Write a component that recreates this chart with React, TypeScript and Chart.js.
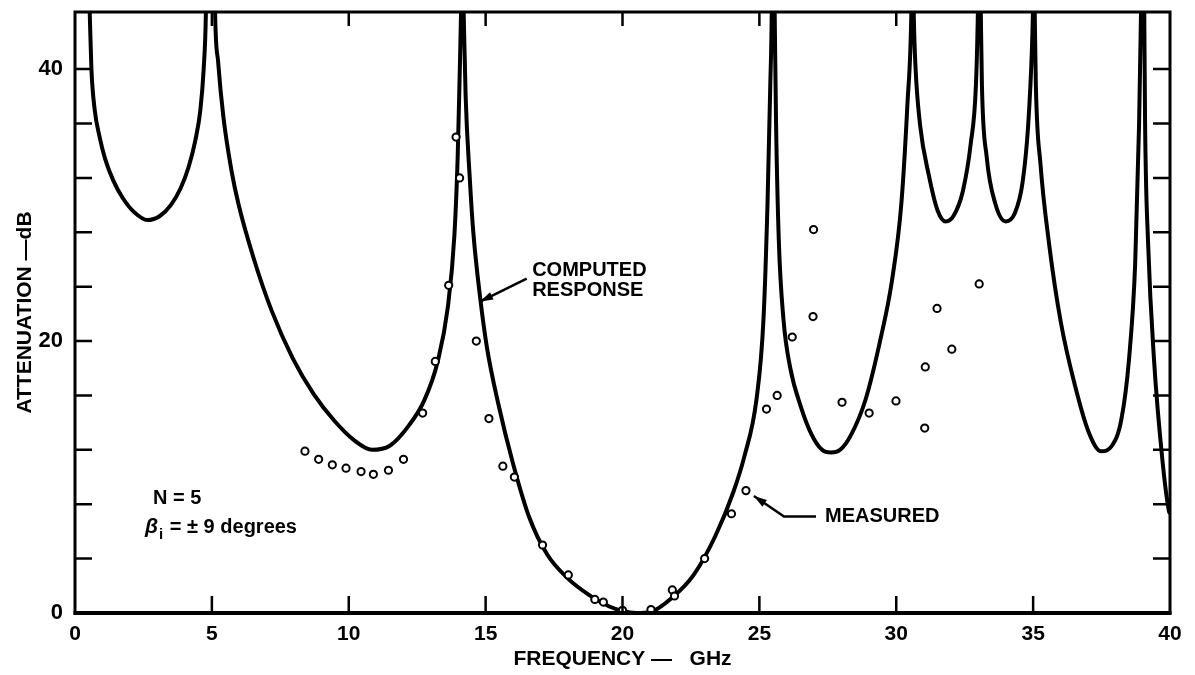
import React, { useEffect, useRef } from 'react';
import { Chart, registerables } from 'chart.js';

Chart.register(...registerables);

const FONT = "'Liberation Sans', Arial, sans-serif";

// Axis ticks
const xTickValues = [0, 5, 10, 15, 20, 25, 30, 35, 40];
const yTickValues = [0, 4, 8, 12, 16, 20, 24, 28, 32, 36, 40, 44];
const yLabelValues = [0, 20, 40];
const Y_MAX = 44.2;

// Computed response: frequency (GHz) / attenuation (dB); null marks a pole (curve leaves the chart)
const computedFreq = [
  0.5, 0.54, 0.6, 0.72, 0.9, 1.1, 1.4, 1.75, 2.15, 2.65, 3.1, 3.5, 3.85, 4.15, 4.4, 4.58, 4.7, 4.78, 4.8,
  4.9,
  5.1, 5.12, 5.23, 5.42, 5.72, 5.98, 6.54, 7.19, 7.95, 8.72, 9.49, 10.2, 10.85, 11.5, 12.2, 12.75, 13.25, 13.62, 13.86, 13.98, 14.05, 14.1, 14.12,
  14.15,
  14.17, 14.2, 14.27, 14.42, 14.55, 14.8, 15.05, 15.45, 16.0, 16.6, 17.25, 18.0, 18.8, 19.5, 20.0, 20.5, 21.05, 21.8, 22.6, 23.4, 24.05, 24.45, 24.9, 25.15, 25.3, 25.4, 25.45, 25.46,
  25.5,
  25.54, 25.56, 25.61, 25.71, 25.88, 26.12, 26.51, 26.89, 27.29, 27.62, 27.95, 28.35, 28.88, 29.42, 29.84, 30.19, 30.41, 30.55, 30.57,
  30.6,
  30.62, 30.64, 30.7, 30.87, 31.19, 31.51, 31.8, 32.09, 32.43, 32.72, 32.91, 32.98, 33.0,
  33.04,
  33.07, 33.09, 33.13, 33.3, 33.62, 34.0, 34.33, 34.61, 34.82, 34.96, 34.99, 35.01,
  35.03,
  35.04, 35.06, 35.1, 35.27, 35.58, 36.01, 36.52, 37.03, 37.48, 37.88, 38.22, 38.5, 38.73, 38.87, 38.94, 38.96,
  39.0,
  39.04, 39.06, 39.09, 39.2, 39.42, 39.72, 39.96, 40.0,
];
const computedAtten = [
  47, 44, 40, 37, 35, 33.4, 31.8, 30.5, 29.5, 28.9, 29.2, 30.0, 31.2, 32.8, 34.8, 37, 40, 44, 47,
  null,
  47, 44, 40.5, 36.5, 32.5, 30, 26, 22.2, 18.75, 16.1, 14.1, 12.7, 12.0, 12.3, 13.8, 15.6, 18.5, 22.5, 27.8, 33.6, 39.4, 44, 47,
  null,
  47, 44, 38, 32, 28, 23.2, 19.5, 15.5, 11.0, 7.0, 4.3, 2.55, 1.3, 0.5, 0.15, 0.0, 0.1, 1.1, 2.8, 5.7, 8.9, 11.5, 15.8, 21.6, 30.3, 39, 44, 47,
  null,
  47, 44, 36, 27.4, 21.6, 18.1, 15.2, 13.2, 12.0, 11.8, 12.0, 13.1, 15.7, 20.1, 24.4, 30.2, 37.5, 44, 47,
  null,
  47, 44, 40.3, 35.9, 32.2, 29.6, 28.8, 29.2, 31, 34.5, 38.8, 44, 47,
  null,
  47, 44, 38.8, 33.6, 30.1, 28.8, 29.4, 31.6, 35.9, 41.7, 44, 47,
  null,
  47, 44, 38.8, 33, 27.2, 21.4, 16.8, 13.3, 11.9, 12.3, 14.2, 18.6, 25.8, 35.9, 44, 47,
  null,
  47, 44, 36, 27.2, 18.5, 11.3, 7.5, 7.3,
];

// Measured points
const measuredFreq = [
  8.4, 8.9, 9.4, 9.9, 10.45, 10.9, 11.45, 12.0, 12.7, 13.16, 13.65, 13.92, 14.05, 14.66, 15.12, 15.63, 16.05,
  17.08, 18.02, 18.99, 19.3, 20.0, 21.04, 21.82, 21.9, 23.0, 23.98, 24.51, 25.26, 25.65, 26.2, 26.98, 26.96,
  28.02, 29.01, 29.99, 31.04, 31.06, 31.49, 32.03, 33.03,
];
const measuredAtten = [
  11.9, 11.3, 10.9, 10.65, 10.4, 10.2, 10.5, 11.3, 14.7, 18.5, 24.1, 35.0, 32.0, 20.0, 14.3, 10.8, 10.0,
  5.0, 2.8, 1.0, 0.8, 0.2, 0.25, 1.7, 1.25, 4.0, 7.3, 9.0, 15.0, 16.0, 20.3, 28.2, 21.8,
  15.5, 14.7, 15.6, 13.6, 18.1, 22.4, 19.4, 24.2,
];

// Annotations (data coordinates)
const computedLabel = ['COMPUTED', 'RESPONSE'];
const computedLabelAt = [16.7, 25.2, 23.7]; // x, y line 1, y line 2
const computedArrow = [[16.5, 24.6], [14.8, 22.9]];
const measuredLabel = 'MEASURED';
const measuredLabelAt = [27.4, 7.1];
const measuredArrow = [[27.07, 7.1], [25.9, 7.1], [24.8, 8.6]];
const nLabel = 'N = 5';
const nLabelAt = [2.85, 8.4];
const betaRest = ' = ± 9 degrees';
const betaLabelAt = [2.56, 6.3];

function drawArrow(ctx: any, pts: number[][]) {
  ctx.beginPath();
  ctx.moveTo(pts[0][0], pts[0][1]);
  for (let i = 1; i < pts.length; i++) ctx.lineTo(pts[i][0], pts[i][1]);
  ctx.stroke();
  const [x1, y1] = pts[pts.length - 2];
  const [x2, y2] = pts[pts.length - 1];
  const a = Math.atan2(y2 - y1, x2 - x1);
  const L = 13, W = 4;
  ctx.beginPath();
  ctx.moveTo(x2, y2);
  ctx.lineTo(x2 - L * Math.cos(a) + W * Math.sin(a), y2 - L * Math.sin(a) - W * Math.cos(a));
  ctx.lineTo(x2 - L * Math.cos(a) - W * Math.sin(a), y2 - L * Math.sin(a) + W * Math.cos(a));
  ctx.closePath();
  ctx.fill();
}

const framePlugin = {
  id: 'frameAndNotes',
  afterDraw(chart: any) {
    const { ctx, chartArea, scales } = chart;
    const { left, right, top, bottom } = chartArea;
    const xs = scales.x;
    const ys = scales.y;
    ctx.save();
    ctx.strokeStyle = '#000';
    ctx.fillStyle = '#000';
    ctx.lineCap = 'butt';
    // inward tick marks
    ctx.lineWidth = 2.5;
    ys.ticks.forEach((t: any) => {
      if (t.value <= 0 || t.value >= Y_MAX - 0.5) return;
      const py = ys.getPixelForValue(t.value);
      ctx.beginPath();
      ctx.moveTo(left, py); ctx.lineTo(left + 17, py);
      ctx.moveTo(right, py); ctx.lineTo(right - 17, py);
      ctx.stroke();
    });
    xs.ticks.forEach((t: any) => {
      if (t.value <= 0 || t.value >= 40) return;
      const px = xs.getPixelForValue(t.value);
      ctx.beginPath();
      ctx.moveTo(px, bottom); ctx.lineTo(px, bottom - 17);
      ctx.moveTo(px, top); ctx.lineTo(px, top + 14);
      ctx.stroke();
    });
    // frame
    ctx.lineWidth = 3;
    ctx.strokeRect(left, top, right - left, bottom - top);
    ctx.lineWidth = 4;
    ctx.beginPath();
    ctx.moveTo(left - 1.5, bottom); ctx.lineTo(right + 1.5, bottom);
    ctx.stroke();

    // annotations
    const X = (v: number) => xs.getPixelForValue(v);
    const Y = (v: number) => ys.getPixelForValue(v);
    ctx.font = `bold 20px ${FONT}`;
    ctx.textBaseline = 'middle';
    ctx.textAlign = 'left';
    ctx.fillText(computedLabel[0], X(computedLabelAt[0]), Y(computedLabelAt[1]));
    ctx.fillText(computedLabel[1], X(computedLabelAt[0]), Y(computedLabelAt[2]));
    ctx.fillText(measuredLabel, X(measuredLabelAt[0]), Y(measuredLabelAt[1]));
    ctx.fillText(nLabel, X(nLabelAt[0]), Y(nLabelAt[1]));
    // beta line
    const bx = X(betaLabelAt[0]);
    const by = Y(betaLabelAt[1]);
    ctx.font = `italic bold 21px ${FONT}`;
    ctx.fillText('β', bx, by);
    const bw = ctx.measureText('β').width;
    ctx.font = `bold 15px ${FONT}`;
    ctx.fillText('i', bx + bw + 1, by + 8);
    const iw = ctx.measureText('i').width;
    ctx.font = `bold 20px ${FONT}`;
    ctx.fillText(betaRest, bx + bw + iw + 2, by);

    ctx.lineWidth = 2.5;
    drawArrow(ctx, computedArrow.map(([a, b]) => [X(a), Y(b)]));
    drawArrow(ctx, measuredArrow.map(([a, b]) => [X(a), Y(b)]));
    ctx.restore();
  },
};

export default function App() {
  const ref = useRef<HTMLCanvasElement>(null);
  useEffect(() => {
    document.body.style.margin = '0';
    const computedData = computedFreq.map((f, i) => ({ x: f, y: computedAtten[i] }));
    const measuredData = measuredFreq.map((f, i) => ({ x: f, y: measuredAtten[i] }));
    const chart = new Chart(ref.current as HTMLCanvasElement, {
      type: 'line',
      data: {
        datasets: [
          {
            label: 'Measured',
            data: measuredData,
            showLine: false,
            pointRadius: 3.6,
            pointBorderWidth: 2,
            pointBackgroundColor: '#fff',
            pointBorderColor: '#000',
            clip: false as any,
          },
          {
            label: 'Computed response',
            data: computedData as any,
            borderColor: '#000',
            borderWidth: 4,
            pointRadius: 0,
            spanGaps: false,
            cubicInterpolationMode: 'monotone',
            clip: 0 as any,
          },
        ],
      },
      options: {
        animation: false,
        responsive: false,
        maintainAspectRatio: false,
        layout: { padding: { left: 0, right: 25, top: 12, bottom: 0 } },
        plugins: { legend: { display: false }, tooltip: { enabled: false } },
        scales: {
          x: {
            type: 'linear',
            min: 0,
            max: 40,
            grid: { display: false, drawTicks: false },
            border: { display: false },
            afterFit: (s: any) => {
              s.height = 62;
              s.paddingLeft = 0;
              s.paddingRight = 0;
            },
            afterBuildTicks: (s: any) => { s.ticks = xTickValues.map((v) => ({ value: v })); },
            ticks: {
              font: { family: FONT, size: 21, weight: 'bold' },
              color: '#000',
              padding: 9,
              maxRotation: 0,
              autoSkip: false,
            },
            title: {
              display: true,
              text: 'FREQUENCY —   GHz',
              color: '#000',
              font: { family: FONT, size: 21, weight: 'bold' },
              padding: { top: 0, bottom: 3 },
            },
          },
          y: {
            type: 'linear',
            min: 0,
            max: Y_MAX,
            grid: { display: false, drawTicks: false },
            border: { display: false },
            afterFit: (s: any) => {
              s.width = 75;
              s.paddingTop = 0;
              s.paddingBottom = 0;
            },
            afterBuildTicks: (s: any) => { s.ticks = yTickValues.map((v) => ({ value: v })); },
            ticks: {
              font: { family: FONT, size: 22, weight: 'bold' },
              color: '#000',
              padding: 12,
              autoSkip: false,
              callback: (v: any) => (yLabelValues.includes(Number(v)) ? String(v) : ''),
            },
            title: {
              display: true,
              text: 'ATTENUATION —dB',
              color: '#000',
              font: { family: FONT, size: 21, weight: 'bold' },
              padding: { top: 13, bottom: 0 },
            },
          },
        },
      },
      plugins: [framePlugin],
    });
    return () => chart.destroy();
  }, []);
  return (
    <div style={{ width: 1195, height: 675, background: '#fff' }}>
      <canvas ref={ref} width={1195} height={675} style={{ display: 'block' }} />
    </div>
  );
}
